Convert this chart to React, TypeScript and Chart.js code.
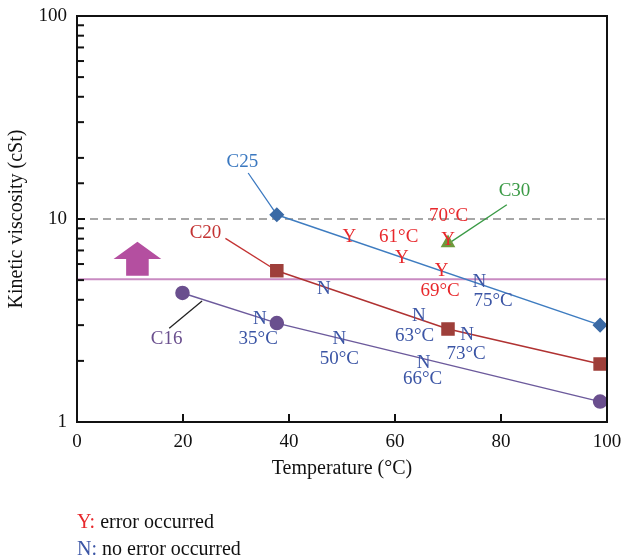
import React, { useEffect, useRef } from "react";
import { Chart, registerables } from "chart.js";

Chart.register(...registerables);

const FONT = "'Liberation Serif', 'Times New Roman', serif";

// Series data (temperature °C, kinetic viscosity cSt)
const c25Temps = [37.7, 98.7];
const c25Visc = [10.5, 3.0];
const c20Temps = [37.7, 70, 98.7];
const c20Visc = [5.56, 2.87, 1.93];
const c16Temps = [19.9, 37.7, 98.7];
const c16Visc = [4.32, 3.07, 1.26];
const c30Temps = [70];
const c30Visc = [7.62];

const xTicks = [0, 20, 40, 60, 80, 100];
const yLabelTicks = [1, 10, 100];

const limitLine = 10; // dashed gray
const thresholdLine = 5.05; // magenta

// Series name labels: [text, x, y, color]
const seriesLabels: [string, number, number, string][] = [
  ["C25", 31.2, 19.1, "#3a78c0"],
  ["C20", 24.25, 8.53, "#c33232"],
  ["C16", 16.9, 2.56, "#6a4f8e"],
  ["C30", 82.55, 13.68, "#3a9a45"],
];
// Leader lines: [x1, y1, x2, y2, color]
const leaders: [number, number, number, number, string][] = [
  [32.3, 16.85, 37.7, 10.5, "#3a78c0"],
  [28.0, 8.03, 37.7, 5.56, "#c33232"],
  [17.4, 2.9, 23.6, 3.95, "#222222"],
  [81.1, 11.76, 70.7, 7.76, "#3a9a45"],
];
// Error-occurred markers (red)
const yMarks: [string, number, number][] = [
  ["Y", 51.4, 8.15],
  ["61°C", 60.7, 8.15],
  ["Y", 61.3, 6.43],
  ["70°C", 70.1, 10.3],
  ["Y", 70.0, 7.85],
  ["Y", 68.8, 5.52],
  ["69°C", 68.5, 4.4],
];
// No-error markers (blue)
const nMarks: [string, number, number][] = [
  ["N", 75.9, 4.89],
  ["75°C", 78.5, 3.93],
  ["N", 46.6, 4.52],
  ["N", 64.5, 3.31],
  ["63°C", 63.7, 2.66],
  ["N", 73.6, 2.69],
  ["73°C", 73.4, 2.15],
  ["N", 49.5, 2.56],
  ["50°C", 49.5, 2.04],
  ["N", 65.4, 1.95],
  ["66°C", 65.2, 1.62],
  ["N", 34.5, 3.22],
  ["35°C", 34.2, 2.56],
];
// Up arrow (data units): x center, tip y, head base y, shaft bottom y, head half width, shaft half width
const arrowX = 11.4;
const arrowTipY = 7.73;
const arrowHeadY = 6.35;
const arrowBottomY = 5.26;
const arrowHeadHalf = 4.5;
const arrowShaftHalf = 2.13;

const RED = "#e8282c";
const BLUE = "#3b55a5";

function toXY(xs: number[], ys: number[]) {
  return xs.map((x, i) => ({ x, y: ys[i] }));
}

const decorPlugin = {
  id: "decor",
  beforeDatasetsDraw(chart: any) {
    const { ctx, chartArea: a, scales } = chart;
    const xs = scales.x;
    const ys = scales.y;
    ctx.save();
    // dashed 10 line
    ctx.strokeStyle = "#8a8a8a";
    ctx.lineWidth = 1.5;
    ctx.setLineDash([8, 5]);
    ctx.beginPath();
    const y10 = ys.getPixelForValue(limitLine);
    ctx.moveTo(a.left, y10);
    ctx.lineTo(a.right, y10);
    ctx.stroke();
    ctx.setLineDash([]);
    // magenta line
    ctx.strokeStyle = "#c98bc2";
    ctx.lineWidth = 2;
    const y5 = ys.getPixelForValue(thresholdLine);
    ctx.beginPath();
    ctx.moveTo(a.left, y5);
    ctx.lineTo(a.right, y5);
    ctx.stroke();
    // arrow
    const cx = xs.getPixelForValue(arrowX);
    const hw = xs.getPixelForValue(arrowX + arrowHeadHalf) - cx;
    const sw = xs.getPixelForValue(arrowX + arrowShaftHalf) - cx;
    const tip = ys.getPixelForValue(arrowTipY);
    const hb = ys.getPixelForValue(arrowHeadY);
    const bot = ys.getPixelForValue(arrowBottomY);
    ctx.fillStyle = "#b44fa0";
    ctx.beginPath();
    ctx.moveTo(cx, tip);
    ctx.lineTo(cx + hw, hb);
    ctx.lineTo(cx + sw, hb);
    ctx.lineTo(cx + sw, bot);
    ctx.lineTo(cx - sw, bot);
    ctx.lineTo(cx - sw, hb);
    ctx.lineTo(cx - hw, hb);
    ctx.closePath();
    ctx.fill();
    // leader lines
    ctx.lineWidth = 1.3;
    leaders.forEach(([x1, y1, x2, y2, c]) => {
      ctx.strokeStyle = c;
      ctx.beginPath();
      ctx.moveTo(xs.getPixelForValue(x1), ys.getPixelForValue(y1));
      ctx.lineTo(xs.getPixelForValue(x2), ys.getPixelForValue(y2));
      ctx.stroke();
    });
    ctx.restore();
  },
  afterDatasetsDraw(chart: any) {
    const { ctx, chartArea: a, scales } = chart;
    const xs = scales.x;
    const ys = scales.y;
    ctx.save();
    // frame
    ctx.strokeStyle = "#111";
    ctx.lineWidth = 2;
    ctx.strokeRect(a.left, a.top, a.right - a.left, a.bottom - a.top);
    // inward ticks
    ctx.lineWidth = 2;
    ys.ticks.forEach((t: any) => {
      const p = ys.getPixelForValue(t.value);
      if (p <= a.top + 1 || p >= a.bottom - 1) return;
      const len = yLabelTicks.includes(t.value) ? 8 : 7;
      ctx.beginPath();
      ctx.moveTo(a.left, p);
      ctx.lineTo(a.left + len, p);
      ctx.stroke();
    });
    xTicks.forEach((v) => {
      const p = xs.getPixelForValue(v);
      if (p <= a.left + 1 || p >= a.right - 1) return;
      ctx.beginPath();
      ctx.moveTo(p, a.bottom);
      ctx.lineTo(p, a.bottom - 8);
      ctx.stroke();
    });
    // texts
    ctx.font = `19px ${FONT}`;
    ctx.textAlign = "center";
    ctx.textBaseline = "middle";
    seriesLabels.forEach(([t, x, y, c]) => {
      ctx.fillStyle = c;
      ctx.fillText(t, xs.getPixelForValue(x), ys.getPixelForValue(y));
    });
    ctx.fillStyle = RED;
    yMarks.forEach(([t, x, y]) => ctx.fillText(t, xs.getPixelForValue(x), ys.getPixelForValue(y)));
    ctx.fillStyle = BLUE;
    nMarks.forEach(([t, x, y]) => ctx.fillText(t, xs.getPixelForValue(x), ys.getPixelForValue(y)));
    // axis titles
    ctx.fillStyle = "#111";
    ctx.font = `20px ${FONT}`;
    ctx.fillText("Temperature (°C)", (a.left + a.right) / 2, a.bottom + 47);
    ctx.save();
    ctx.translate(17, (a.top + a.bottom) / 2);
    ctx.rotate(-Math.PI / 2);
    ctx.fillText("Kinetic viscosity (cSt)", 0, 0);
    ctx.restore();
    // legend notes
    ctx.textAlign = "left";
    const rows: [string, string, string, number][] = [
      ["Y:", " error occurred", RED, a.bottom + 101],
      ["N:", " no error occurred", BLUE, a.bottom + 128],
    ];
    rows.forEach(([k, rest, c, yy]) => {
      ctx.fillStyle = c;
      ctx.fillText(k, a.left, yy);
      const w = ctx.measureText(k).width;
      ctx.fillStyle = "#111";
      ctx.fillText(rest, a.left + w, yy);
    });
    ctx.restore();
  },
};

export default function App() {
  const ref = useRef<HTMLCanvasElement | null>(null);
  useEffect(() => {
    if (!ref.current) return;
    const chart = new Chart(ref.current, {
      type: "line",
      data: {
        datasets: [
          {
            label: "C25",
            data: toXY(c25Temps, c25Visc),
            borderColor: "#3e7cc0",
            backgroundColor: "#3b6aa5",
            pointBackgroundColor: "#3b6aa5",
            pointBorderColor: "#3b6aa5",
            pointStyle: "rectRot",
            pointRadius: 6.5,
            borderWidth: 1.5,
          },
          {
            label: "C20",
            data: toXY(c20Temps, c20Visc),
            borderColor: "#b03232",
            pointBackgroundColor: "#9e3f3a",
            pointBorderColor: "#9e3f3a",
            pointStyle: "rect",
            pointRadius: 8.5,
            borderWidth: 1.5,
          },
          {
            label: "C16",
            data: toXY(c16Temps, c16Visc),
            borderColor: "#6c5a9c",
            pointBackgroundColor: "#6a4f8e",
            pointBorderColor: "#6a4f8e",
            pointStyle: "circle",
            pointRadius: 6.5,
            borderWidth: 1.5,
          },
          {
            label: "C30",
            data: toXY(c30Temps, c30Visc),
            borderColor: "#6e9a3c",
            pointBackgroundColor: "#6e9a3c",
            pointBorderColor: "#6e9a3c",
            pointStyle: "triangle",
            pointRadius: 7,
            borderWidth: 1.5,
          },
        ],
      },
      options: {
        responsive: false,
        animation: false,
        devicePixelRatio: 1,
        layout: { padding: { top: 16, right: 17, bottom: 0, left: 0 } },
        plugins: { legend: { display: false }, tooltip: { enabled: false } },
        scales: {
          x: {
            type: "linear",
            min: 0,
            max: 100,
            afterBuildTicks: (s: any) => {
              s.ticks = xTicks.map((v) => ({ value: v }));
            },
            afterFit: (s: any) => {
              s.height = 138;
              s.paddingLeft = 0;
              s.paddingRight = 0;
            },
            grid: { display: false, drawTicks: false },
            border: { display: false },
            ticks: { color: "#111", font: { family: FONT, size: 19 }, padding: 9, maxRotation: 0 },
          },
          y: {
            type: "logarithmic",
            min: 1,
            max: 100,
            afterFit: (s: any) => {
              s.width = 77;
              s.paddingTop = 0;
              s.paddingBottom = 0;
            },
            grid: { display: false, drawTicks: false },
            border: { display: false },
            ticks: {
              color: "#111",
              font: { family: FONT, size: 19 },
              padding: 10,
              autoSkip: false,
              callback: (v: any) => (yLabelTicks.includes(Number(v)) ? String(v) : ""),
            },
          },
        },
      },
      plugins: [decorPlugin],
    } as any);
    return () => chart.destroy();
  }, []);
  return (
    <div style={{ position: "absolute", left: 0, top: 0, width: 624, height: 560, background: "#fff" }}>
      <canvas ref={ref} width={624} height={560} />
    </div>
  );
}
